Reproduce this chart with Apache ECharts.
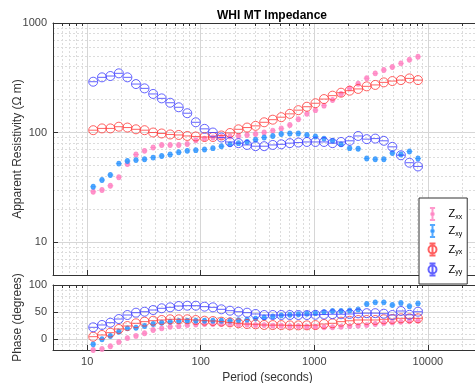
<!DOCTYPE html>
<html>
<head>
<meta charset="utf-8">
<title>WHI MT Impedance</title>
<script src="https://cdn.jsdelivr.net/npm/echarts@6/dist/echarts.min.js"></script>
<style>
  html, body { margin: 0; padding: 0; background: #fff; }
  #chart { width: 475px; height: 383px; }
</style>
</head>
<body>
<div id="chart"></div>
<script>
// periods (seconds)
var periods = [11.3, 13.5, 16, 19, 22.6, 26.9, 32, 38.1, 45.3, 53.8, 64, 76.1, 90.5, 108, 128, 152,
  181, 215, 256, 304, 362, 431, 512, 609, 724, 861, 1024, 1218, 1448, 1722, 2048, 2435, 2896,
  3444, 4096, 4871, 5793, 6889, 8192];

// apparent resistivity (ohm m)
var rhoXX = [28.8, 29.9, 32.7, 39, 51.5, 63, 68, 73, 77, 77, 77, 78.5, 85, 88, 90, 91, 92, 93, 95,
  97, 100, 104, 109, 117, 132, 148, 160, 176, 198, 225, 253, 279, 313, 347, 372, 396, 428, 462, 492];
var rhoXY = [32, 36.8, 41, 52, 55, 56, 57, 59, 61, 63, 66, 68, 69, 70, 72, 75, 78, 80, 82, 86, 90,
  93, 97, 98, 98, 95, 92, 88, 84, 78, 72, 71, 58, 57, 57, 65, 63, 67, 58];
var rhoYX = [105, 109, 109, 113, 111, 107, 105, 100, 98, 96, 95, 93, 92, 91, 91, 94, 99, 107, 111,
  115, 124, 131, 138, 148, 160, 172, 185, 202, 217, 231, 241, 250, 264, 272, 287, 295, 301, 312, 301];
var rhoYY = [291, 319, 328, 347, 319, 277, 253, 225, 205, 187, 170, 150, 124, 108, 100, 90, 82, 80,
  77, 75, 75, 77, 78, 80, 81, 82, 82, 82, 80, 82, 84, 93, 87, 88, 84, 74, 62, 53, 49];

// phase (degrees)
var phsXX = [-20, -18, -13, -5, 2, 6, 11, 17, 20, 23, 24, 26, 27, 28, 28, 28, 28, 27, 27, 26, 26,
  25, 25, 24, 24, 23, 23, 22, 22, 23, 24, 25, 26, 28, 30, 31, 32, 33, 34];
var phsXY = [-9.5, -0.2, 5.8, 13.8, 20, 21.2, 24.3, 28, 30.4, 32.3, 33.5, 34.1, 34, 34, 34, 34, 34,
  35, 36, 38, 40, 42, 44, 45, 46, 47, 48, 50, 52, 52, 53, 55, 65, 68, 68, 63, 67, 61, 66];
var phsYX = [4.6, 7.7, 12, 18.8, 24.3, 29.3, 32.3, 34.1, 35.4, 36.7, 36.7, 36.7, 35.4, 34.1, 33.5,
  32.3, 31, 29.3, 28, 27.5, 26.2, 26, 26, 25.5, 25.5, 25.5, 26, 28, 29.3, 32.3, 34, 35.4, 35.4, 35.4,
  36.7, 37.2, 38.5, 38.5, 38.5];
var phsYY = [21.9, 26.2, 30.4, 37.2, 44.6, 48.9, 50.7, 53.8, 57, 58.8, 61.2, 61.8, 61.8, 60, 58.8,
  55.1, 52.6, 50.7, 48.9, 46.5, 44.6, 44.6, 44.6, 44.6, 44.6, 44.6, 45, 45.5, 46, 46, 46.5, 47.7, 48,
  48, 47, 44.6, 52, 45, 50.7];

var periodTicks = [10, 100, 1000, 10000];
var rhoTicks = [10, 100, 1000];
var phaseTicks = [0, 50, 100];
var phaseMinor = [-10, 10, 20, 30, 40, 60, 70, 80, 90];

var colors = { Zxx: '#ff80c0', Zxy: '#2b94ff', Zyx: '#ff3a3a', Zyy: '#3d3dff' };

// marker shapes: small dot with flat error caps, circle with error bar line
var dotBar = 'path://M0,2.5L6,2.5M3,0.5A2,2,0,1,1,3,4.5A2,2,0,1,1,3,0.5Z';
var circleBar = 'path://M0.5,5L9.5,5M0,5A5,5,0,1,1,10,5A5,5,0,1,1,0,5Z';
var legendDot = 'path://M2,0L8,0M5,0L5,14M2,14L8,14M5,5.5A1.5,1.5,0,1,1,5,8.5A1.5,1.5,0,1,1,5,5.5Z';
var legendCircle = 'path://M2,1L8,1M5,1L5,13M2,13L8,13M1,7A4,4,0,1,1,9,7A4,4,0,1,1,1,7Z';

// minor grid positions between the decades
function minorLogs(from, to) {
    var out = [];
    for (var d = 1; d < to; d *= 10) {
        for (var m = 2; m <= 9; m++) {
            if (d * m >= from && d * m <= to) out.push(d * m);
        }
    }
    return out;
}

function plainNumber(v) { return String(Math.round(v)); }

var axisColor = '#333';
var majorGrid = { show: true, lineStyle: { color: '#d6d6d6', width: 1 } };
var minorGrid = { show: true, lineStyle: { color: '#dcdcdc', width: 1, type: [2, 2] } };

function mainX(grid, showLabels) {
    return {
        type: 'log', gridIndex: grid, min: 5, max: 30000, position: 'bottom',
        name: showLabels ? 'Period (seconds)' : '', nameLocation: 'middle', nameGap: 22,
        nameMoveOverlap: false,
        nameTextStyle: { fontSize: 12, color: axisColor },
        axisLine: { show: true, onZero: false, lineStyle: { color: axisColor } },
        axisTick: { show: true, inside: true, length: 5, customValues: periodTicks, lineStyle: { color: axisColor } },
        axisLabel: { show: showLabels, customValues: periodTicks, formatter: plainNumber, fontSize: 11, color: '#444', margin: 6 },
        splitLine: majorGrid
    };
}

function mirrorX(grid) {
    return {
        type: 'log', gridIndex: grid, min: 5, max: 30000, position: 'top',
        axisLine: { show: true, onZero: false, lineStyle: { color: axisColor } },
        axisTick: { show: true, inside: true, length: 3, customValues: minorLogs(5, 30000), lineStyle: { color: axisColor } },
        axisLabel: { show: false },
        splitLine: minorGrid
    };
}

function makeSeries(name, yValues, grid) {
    var circle = name === 'Zyx' || name === 'Zyy';
    return {
        name: name,
        type: 'scatter',
        xAxisIndex: grid * 2,
        yAxisIndex: grid * 2,
        data: periods.map(function (p, i) { return [p, yValues[i]]; }),
        symbol: circle ? circleBar : dotBar,
        symbolSize: circle ? [9, 9] : [6, 5],
        symbolKeepAspect: false,
        itemStyle: circle
            ? { color: 'none', borderColor: colors[name], borderWidth: 1 }
            : { color: colors[name], borderColor: colors[name], borderWidth: 1 },
        emphasis: { disabled: true }
    };
}

var chart = echarts.init(document.getElementById('chart'), null, { renderer: 'canvas' });

var option = {
    animation: false,
    textStyle: { fontFamily: '"Liberation Sans", Arial, Helvetica, sans-serif' },
    title: {
        text: 'WHI MT Impedance',
        left: 212, top: 5,
        textStyle: { fontSize: 12, fontWeight: 'bold', color: '#000' }
    },
    legend: {
        orient: 'vertical',
        left: 419, top: 198,
        itemWidth: 22, itemHeight: 12, itemGap: 3,
        padding: [9, 5, 6, 7],
        backgroundColor: '#fff',
        borderColor: '#333', borderWidth: 1,
        data: [
            { name: 'Zxx', icon: legendDot },
            { name: 'Zxy', icon: legendDot },
            { name: 'Zyx', icon: legendCircle },
            { name: 'Zyy', icon: legendCircle }
        ],
        formatter: function (name) { return 'Z{s|' + name.slice(1) + '}'; },
        textStyle: {
            fontSize: 11, color: '#000',
            rich: { s: { fontSize: 7, color: '#000', padding: [6, 0, 0, 0] } }
        }
    },
    grid: [
        { left: 53, top: 23, width: 429, height: 252, outerBoundsMode: 'none' },
        { left: 53, top: 285, width: 429, height: 65, outerBoundsMode: 'none' }
    ],
    xAxis: [mainX(0, false), mirrorX(0), mainX(1, true), mirrorX(1)],
    yAxis: [
        {
            type: 'log', gridIndex: 0, min: 5, max: 1000, position: 'left',
            name: 'Apparent Resistivity (Ω m)', nameLocation: 'middle', nameGap: 29,
            nameMoveOverlap: false,
            nameTextStyle: { fontSize: 12, color: axisColor },
            axisLine: { show: true, onZero: false, lineStyle: { color: axisColor } },
            axisTick: { show: true, inside: true, length: 5, customValues: rhoTicks, lineStyle: { color: axisColor } },
            axisLabel: { customValues: rhoTicks, formatter: plainNumber, fontSize: 11, color: '#444', margin: 6 },
            splitLine: majorGrid
        },
        {
            type: 'log', gridIndex: 0, min: 5, max: 1000, position: 'right',
            axisLine: { show: true, onZero: false, lineStyle: { color: axisColor } },
            axisTick: { show: true, inside: true, length: 3, customValues: minorLogs(5, 1000), lineStyle: { color: axisColor } },
            axisLabel: { show: false },
            splitLine: minorGrid
        },
        {
            type: 'value', gridIndex: 1, min: -20, max: 100, position: 'left',
            name: 'Phase (degrees)', nameLocation: 'middle', nameGap: 29,
            nameMoveOverlap: false,
            nameTextStyle: { fontSize: 12, color: axisColor },
            axisLine: { show: true, onZero: false, lineStyle: { color: axisColor } },
            axisTick: { show: true, inside: true, length: 5, customValues: phaseTicks, lineStyle: { color: axisColor } },
            axisLabel: { customValues: phaseTicks, fontSize: 11, color: '#444', margin: 6 },
            splitLine: majorGrid
        },
        {
            type: 'value', gridIndex: 1, min: -20, max: 100, position: 'right',
            axisLine: { show: true, onZero: false, lineStyle: { color: axisColor } },
            axisTick: { show: true, inside: true, length: 3, customValues: phaseMinor, lineStyle: { color: axisColor } },
            axisLabel: { show: false },
            splitLine: minorGrid
        }
    ],
    series: [
        makeSeries('Zxx', rhoXX, 0),
        makeSeries('Zxy', rhoXY, 0),
        makeSeries('Zyx', rhoYX, 0),
        makeSeries('Zyy', rhoYY, 0),
        makeSeries('Zxx', phsXX, 1),
        makeSeries('Zxy', phsXY, 1),
        makeSeries('Zyx', phsYX, 1),
        makeSeries('Zyy', phsYY, 1)
    ]
};

chart.setOption(option);
</script>
</body>
</html>
